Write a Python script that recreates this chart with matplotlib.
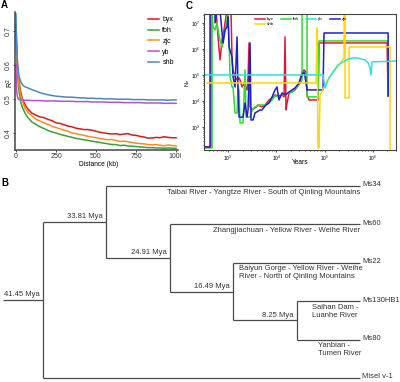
import matplotlib
matplotlib.use("Agg")
import matplotlib.pyplot as plt
from matplotlib.transforms import Bbox

plt.rcParams['font.family'] = ['Liberation Sans', 'DejaVu Sans']
plt.rcParams['mathtext.fontset'] = 'custom'
plt.rcParams['mathtext.rm'] = 'Liberation Sans'
plt.rcParams['mathtext.it'] = 'Liberation Sans:italic'

# ---- panel A: LD decay ----
dist = [0, 2, 5, 10, 15, 20, 30, 40, 50, 60, 75, 100, 125, 150, 175, 200, 225, 250,
        275, 300, 325, 350, 375, 400, 425, 450, 475, 500, 525, 550, 575, 600, 625,
        650, 675, 700, 725, 750, 775, 800, 825, 850, 875, 900, 925, 950, 975, 1000]
r2_byx = [0.72, 0.69, 0.65, 0.60, 0.57, 0.55, 0.52, 0.50, 0.49, 0.48, 0.47, 0.458,
          0.452, 0.447, 0.445, 0.44, 0.436, 0.43, 0.428, 0.424, 0.42, 0.418, 0.414,
          0.412, 0.41, 0.41, 0.408, 0.405, 0.402, 0.40, 0.398, 0.397, 0.398, 0.395,
          0.397, 0.398, 0.394, 0.393, 0.39, 0.388, 0.385, 0.385, 0.387, 0.386, 0.389,
          0.387, 0.386, 0.386]
r2_tbh = [0.71, 0.67, 0.62, 0.57, 0.54, 0.52, 0.49, 0.475, 0.465, 0.455, 0.445, 0.432,
          0.425, 0.418, 0.413, 0.407, 0.403, 0.40, 0.396, 0.393, 0.39, 0.387, 0.384,
          0.382, 0.38, 0.378, 0.376, 0.374, 0.372, 0.37, 0.368, 0.366, 0.366, 0.363,
          0.364, 0.362, 0.361, 0.36, 0.359, 0.358, 0.357, 0.357, 0.356, 0.356, 0.355,
          0.356, 0.355, 0.355]
r2_zjc = [0.70, 0.67, 0.63, 0.59, 0.56, 0.54, 0.51, 0.495, 0.48, 0.47, 0.46, 0.45,
          0.44, 0.435, 0.43, 0.425, 0.42, 0.416, 0.412, 0.408, 0.405, 0.40, 0.398,
          0.395, 0.393, 0.39, 0.388, 0.386, 0.384, 0.382, 0.38, 0.381, 0.378, 0.375,
          0.376, 0.374, 0.372, 0.37, 0.369, 0.368, 0.366, 0.365, 0.366, 0.364, 0.362,
          0.365, 0.363, 0.362]
r2_yb = [0.60, 0.56, 0.52, 0.505, 0.50, 0.498, 0.497, 0.497, 0.496, 0.496, 0.496,
         0.495, 0.495, 0.495, 0.494, 0.494, 0.494, 0.494, 0.493, 0.493, 0.493, 0.493,
         0.492, 0.492, 0.492, 0.492, 0.491, 0.491, 0.491, 0.491, 0.490, 0.490, 0.490,
         0.490, 0.489, 0.489, 0.489, 0.489, 0.489, 0.488, 0.488, 0.488, 0.488, 0.488,
         0.487, 0.487, 0.487, 0.487]
r2_shb = [0.75, 0.70, 0.64, 0.60, 0.58, 0.565, 0.55, 0.542, 0.537, 0.535, 0.532,
          0.527, 0.523, 0.518, 0.515, 0.512, 0.51, 0.508, 0.507, 0.506, 0.505, 0.505,
          0.504, 0.503, 0.503, 0.502, 0.502, 0.501, 0.501, 0.50, 0.50, 0.50, 0.499,
          0.499, 0.499, 0.499, 0.498, 0.498, 0.498, 0.498, 0.497, 0.497, 0.497, 0.497,
          0.497, 0.496, 0.497, 0.497]
ld_names = ["byx", "tbh", "zjc", "yb", "shb"]
ld_colors = ["#d7191c", "#3a9e3a", "#ff8c1a", "#b553c8", "#4a86c5"]

# ---- panel C: Ne history ----
yr_byx = [334, 445, 445, 565, 621, 683, 752, 826, 867, 953, 1153, 1210, 1269, 1397,
          1536, 1690, 1772, 1950, 2143, 2474, 2595, 2722, 2854, 3140, 3622, 4180, 5060,
          5840, 7060, 8150, 9400, 10830, 13130, 14430, 15130, 15880, 16660, 18330,
          21150, 24390, 29510, 30950, 34050, 37470, 41220, 43230, 47560, 73000, 76600,
          1.96e6, 2.06e6]
ne_byx = [170, 170, 3e7, 3e7, 2.9e6, 3.8e5, 2.2e6, 5.4e6, 1e7, 3e7, 3e7, 3.8e5, 1.56e5,
          8.4e4, 6.4e4, 7.7e4, 6.4e4, 3.45e4, 4.5e4, 2.65e4, 8.4e4, 1.7e6, 5900, 4500,
          5400, 7000, 5900, 7000, 1.09e4, 1.3e4, 1.7e4, 1.56e4, 1.7e4, 1.43e4, 2.9e6,
          4500, 8400, 2.03e4, 2.2e4, 2.65e4, 4.5e4, 6.4e4, 1.3e5, 1.56e5, 1.3e5, 1.7e4,
          1.09e4, 1.09e4, 1.7e6, 1.7e6, 1.56e4]
yr_tbh = [334, 467, 467, 489, 538, 591, 621, 683, 752, 788, 867, 953, 1000, 1049, 1100,
          1210, 1269, 1397, 1536, 1611, 1690, 1772, 2045, 2249, 2359, 2854, 3140, 3622,
          4600, 5840, 7060, 8150, 9400, 11380, 13130, 15130, 18330, 21150, 24390, 29510,
          34050, 34050, 43230, 43230, 73000, 76600, 2.06e6, 2.06e6]
ne_tbh = [156, 156, 3e7, 7e6, 5.4e6, 1e7, 5.4e6, 2.2e6, 1.19e6, 1.7e6, 5.4e6, 1.3e7,
          3e7, 2.2e6, 8.4e4, 3.45e4, 3.45e4, 3450, 3450, 3.45e4, 2.65e4, 1430, 1430,
          1.56e5, 2400, 2400, 4500, 5900, 7000, 7000, 8400, 1.09e4, 1.56e4, 1.43e4,
          1.7e4, 1.7e4, 2.03e4, 2.2e4, 2.9e4, 4.1e4, 6.4e4, 3e7, 3e7, 1.43e4, 1.43e4,
          2.03e6, 2.03e6, 1.56e4]
yr_zjc = [334, 424, 424, 538, 538, 591, 683, 752, 788, 867, 953, 1000, 1049, 1210, 1269,
          1397, 1536, 1611, 1690, 2045, 2249, 2474, 2595, 2854, 2994, 3293, 3622, 4600,
          5060, 5840, 7060, 8150, 9400, 10300, 11380, 13130, 15130, 18330, 21150, 24390,
          29510, 30950, 34050, 37470, 39300, 43230, 92600, 97100, 2.06e6, 2.06e6]
ne_zjc = [170, 170, 3e7, 3e7, 1e7, 3e7, 3e7, 4.1e6, 1.7e6, 5.4e6, 7e6, 1.7e7, 1.19e6,
          4.9e5, 8.4e4, 3.45e4, 2.9e6, 2.65e4, 2400, 2400, 8400, 2400, 4500, 1.7e6, 1860,
          1860, 3450, 4500, 4500, 6400, 8400, 1.43e4, 2.65e4, 3.45e4, 1.09e4, 2.03e4,
          1.7e4, 2.2e4, 2.65e4, 3.16e4, 4.9e4, 6.4e4, 1e5, 1.3e5, 8.4e4, 2.65e4, 2.65e4,
          4.1e6, 4.1e6, 1.56e4]
yr_yb = [300, 92600, 101900, 117500, 149300, 189300, 240400, 305000, 387000, 491800,
         567000, 686000, 792000, 871000, 914000, 958000, 3.2e6]
ne_yb = [1e5, 1e5, 3.16e4, 6.4e4, 1.3e5, 2.4e5, 3.16e5, 4.1e5, 4.5e5, 4.5e5, 4.1e5,
         3.8e5, 2.9e5, 1.86e5, 1e5, 3.16e5, 3.45e5]
yr_shb = [367, 66400, 69600, 73000, 76600, 80300, 101900, 129300, 189300, 252200,
          252200, 264500, 264500, 320000, 320000, 2.26e6, 2.26e6]
ne_shb = [4.9e4, 4.9e4, 6.4e6, 156, 156, 1.7e4, 4.1e4, 9.2e4, 2.2e5, 4.5e5, 3e7, 3e7,
          1.3e4, 1.3e4, 1.19e6, 1.19e6, 100]

# ---- panel B: tree (node label, children) ----
tree = ("41.45 Mya", [("33.81 Mya", ["Ms34",
        ("24.91 Mya", ["Ms60",
         ("16.49 Mya", ["Ms22",
          ("8.25 Mya", ["Ms130HB1", "Ms80"])])])]),
        "Misel v-1"])
locality = {
    "Ms34": "Taibai River - Yangtze River - South of Qinling Mountains",
    "Ms60": "Zhangjiachuan - Yellow River - Weihe River",
    "Ms22": "Baiyun Gorge - Yellow River - Weihe\nRiver - North of Qinling Mountains",
    "Ms130HB1": "Saihan Dam -\nLuanhe River",
    "Ms80": "Yanbian -\nTumen River",
}
# (alignment, offset from tip if right / from parent node if left)
loc_anchor = {"Ms34": ("right", 0.0), "Ms60": ("right", 0.0), "Ms22": ("left", 0.095),
              "Ms130HB1": ("left", 0.24), "Ms80": ("left", 0.33)}

W, H = 400, 382
fig = plt.figure(figsize=(W / 100, H / 100), dpi=100)

def px_axes(x0, y0, x1, y1):
    return fig.add_axes([x0 / W, 1 - y1 / H, (x1 - x0) / W, (y1 - y0) / H])

# ---------- A ----------
axA = px_axes(15, 12, 178, 150)
for name, col, vals in zip(ld_names, ld_colors, [r2_byx, r2_tbh, r2_zjc, r2_yb, r2_shb]):
    axA.plot(dist, vals, color=col, lw=1.1, label=name)
axA.set_xlim(-6, 1012)
axA.set_ylim(0.35, 0.755)
axA.set_xticks([0, 250, 500, 750, 1000])
axA.set_yticks([0.4, 0.5, 0.6, 0.7])
axA.set_yticklabels(["0.4", "0.5", "0.6", "0.7"], rotation=90, va="center")
axA.tick_params(labelsize=5, length=1.5, width=0.6, pad=1, colors="#333")
for s in ["top", "right"]:
    axA.spines[s].set_visible(False)
for s in ["left", "bottom"]:
    axA.spines[s].set_linewidth(1.1)
    axA.spines[s].set_color("#444")
axA.legend(loc="upper right", bbox_to_anchor=(1.0, 1.0), frameon=False, fontsize=5,
           handlelength=1.6, handletextpad=0.5, labelspacing=0.55, borderaxespad=0.2)
fig.text(10 / W, 1 - 83 / H, "R$^2$", rotation=90, ha="center", va="center", fontsize=5)
fig.text(99 / W, 1 - 165 / H, "Distance (kb)", ha="center", va="center", fontsize=4.8)
fig.canvas.draw()
lbl = axA.get_xticklabels()[-1]
lbl.set_clip_box(Bbox([[0, 0], [181, H]]))
lbl.set_clip_on(True)

# ---------- C ----------
axC = px_axes(204, 14, 396, 150)
handles = {}
for name, col, xs, ys in [("byx", "#e3173a", yr_byx, ne_byx), ("tbh", "#2fdc2f", yr_tbh, ne_tbh),
                          ("zjc", "#2020c8", yr_zjc, ne_zjc), ("shb", "#f7d80a", yr_shb, ne_shb),
                          ("yb", "#33dede", yr_yb, ne_yb)]:
    handles[name], = axC.plot(xs, ys, color=col, lw=1.1, label=name)
axC.set_xscale("log")
axC.set_yscale("log")
axC.set_xlim(318, 3.0e6)
axC.set_ylim(130, 2.2e7)
axC.set_yticks([1e3, 1e4, 1e5, 1e6, 1e7])
axC.set_xticks([1e3, 1e4, 1e5, 1e6])
axC.tick_params(which="both", labelsize=3.5, length=1.5, width=0.5, pad=1)
axC.tick_params(which="minor", length=1)
for s in axC.spines.values():
    s.set_linewidth(0.8)
    s.set_color("#444")
order = ["byx", "shb", "tbh", "yb", "zjc"]
axC.legend([handles[n] for n in order], order, ncol=4, loc="upper left",
           bbox_to_anchor=(0.25, 1.0), frameon=False, fontsize=3.2, handlelength=2.2,
           handletextpad=0.5, columnspacing=1.6, labelspacing=0.25, borderaxespad=0.3)
fig.text(188 / W, 1 - 83 / H, "N$_e$", rotation=90, ha="center", va="center", fontsize=4)
fig.text(300 / W, 1 - 163 / H, "Years", ha="center", va="center", fontsize=4.8)

# ---------- B ----------
axB = px_axes(0, 180, 400, 382)
axB.set_xlim(-43 / 63.4, (W - 43) / 63.4)
axB.set_ylim((382 - 186) / 38.4, (180 - 186) / 38.4)
axB.axis("off")
tip_x = 5
tree_col = "#4a4a4a"
fs = 5.5
tip_count = [0]

def draw(node, depth, parent_x):
    if isinstance(node, str):
        y = tip_count[0]
        tip_count[0] += 1
        axB.text(tip_x + 0.03, y - 0.03, node, ha="left", va="center", fontsize=fs, color="#333")
        if node in locality:
            ha, off = loc_anchor[node]
            lx = tip_x + off if ha == "right" else parent_x + off
            axB.text(lx, y + 0.07, locality[node], ha=ha, va="top", fontsize=fs,
                     color="#333", linespacing=1.15)
        return tip_x, y
    label, children = node
    x = depth
    kids = [draw(c, depth + 1, x) for c in children]
    ys = [k[1] for k in kids]
    y = (min(ys) + max(ys)) / 2
    axB.plot([x, x], [min(ys), max(ys)], color=tree_col, lw=0.9, solid_capstyle="butt")
    for kx, ky in kids:
        axB.plot([x, kx], [ky, ky], color=tree_col, lw=0.9, solid_capstyle="butt")
    axB.text(x - 0.05, y - 0.04, label, ha="right", va="bottom", fontsize=fs, color="#333")
    return x, y

rx, ry = draw(tree, 0, 0)
axB.plot([-0.63, rx], [ry, ry], color=tree_col, lw=0.9, solid_capstyle="butt")

# panel letters
for t, x, y in [("A", 4, 5), ("C", 189, 6), ("B", 5, 183)]:
    fig.text(x / W, 1 - y / H, t, ha="center", va="center", fontsize=7, fontweight="bold")

fig.savefig("out.png", dpi=100)
